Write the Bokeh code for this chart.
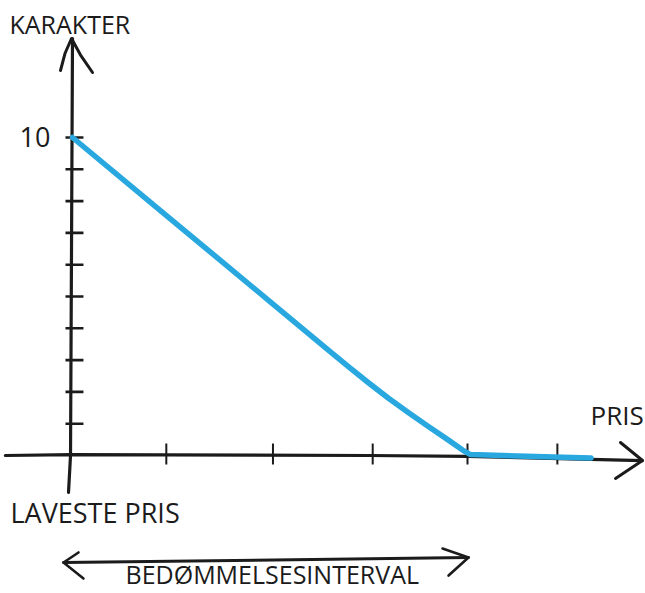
from bokeh.plotting import figure
from bokeh.models import Range1d, ColumnDataSource
from bokeh.core.properties import value
from bokeh.embed import file_html
from bokeh.resources import INLINE

# ---- data ----
PRICE = [0.0, 1.0, 2.0, 2.6, 2.8, 3.0, 3.2, 3.4, 3.6, 3.8, 3.95, 4.03, 5.25]
GRADE = [10.0, 7.42, 4.84, 3.29, 2.78, 2.28, 1.8, 1.35, 0.92, 0.5, 0.17, 0.03, -0.08]
X_TICKS = [0.95, 2.03, 3.04, 4.0, 4.91]
Y_TICKS = [1, 2, 3, 4, 5, 6, 7, 8, 9, 10]
Y_TICK_LABEL_VALUE = 10
Y_TICK_LABEL = "10"
Y_TITLE = "KARAKTER"
X_TITLE = "PRIS"
ORIGIN_LABEL = "LAVESTE PRIS"
INTERVAL_LABEL = "BEDØMMELSESINTERVAL"

W, H = 645, 593
FONT = value("Open Sans")
INK = "#1b1b1b"
BLUE = "#29a8e0"

p = figure(width=W, height=H, output_backend="svg", toolbar_location=None,
           x_range=Range1d(-0.7291, 5.8025), y_range=Range1d(-4.3396, 14.308),
           x_axis_type=None, y_axis_type=None, min_border=0)
p.outline_line_color = None
p.xgrid.visible = False
p.ygrid.visible = False
p.background_fill_color = "white"
p.border_fill_color = "white"

# axes (hand-drawn look)
p.line([-0.68, 0.0, 3.0, 4.0, 5.77], [0.0, 0.03, 0.0, -0.03, -0.16],
       line_color=INK, line_width=3.2, line_cap="round")
p.line([-0.0405, -0.02, 0.0], [-1.163, 0.0, 13.11],
       line_color=INK, line_width=3.2, line_cap="round")
# arrow heads
p.line([-0.1215, -0.075, -0.0101, 0.08, 0.2025], [12.107, 12.65, 13.113, 12.6, 12.044],
       line_color=INK, line_width=3, line_cap="round", line_join="round")
p.line([5.549, 5.772, 5.499], [0.409, -0.157, -0.723],
       line_color=INK, line_width=3, line_cap="round", line_join="round")

# ticks
p.segment(x0=[-0.071] * len(Y_TICKS), y0=Y_TICKS, x1=[0.111] * len(Y_TICKS), y1=Y_TICKS,
          line_color=INK, line_width=2.6)
p.segment(x0=X_TICKS, y0=[0.377] * len(X_TICKS), x1=X_TICKS, y1=[-0.283] * len(X_TICKS),
          line_color=INK, line_width=2)

# data line
src = ColumnDataSource(dict(x=PRICE, y=GRADE))
p.line("x", "y", source=src, line_color=BLUE, line_width=5.5,
       line_cap="round", line_join="round")

# double arrow (interval)
p.line([-0.091, 4.010], [-3.365, -3.208], line_color=INK, line_width=3, line_cap="round")
p.line([0.0608, -0.091, 0.111], [-3.05, -3.365, -3.868],
       line_color=INK, line_width=2.6, line_cap="round", line_join="round")
p.line([3.747, 4.010, 3.808], [-2.925, -3.208, -3.774],
       line_color=INK, line_width=2.6, line_cap="round", line_join="round")

# texts
p.text(x=[-0.638], y=[13.57], text=[Y_TITLE], text_font=FONT, text_font_size="25px",
       text_align="left", text_baseline="middle", text_color=INK)
p.text(x=[-0.2228], y=[Y_TICK_LABEL_VALUE + 0.03], text=[Y_TICK_LABEL], text_font=FONT,
       text_font_size="27px", text_align="right", text_baseline="middle", text_color=INK)
p.text(x=[5.2456], y=[1.289], text=[X_TITLE], text_font=FONT, text_font_size="26px",
       text_align="left", text_baseline="middle", text_color=INK)
p.text(x=[-0.628], y=[-1.808], text=[ORIGIN_LABEL], text_font=FONT, text_font_size="27px",
       text_align="left", text_baseline="middle", text_color=INK)
p.text(x=[0.5367], y=[-3.72], text=[INTERVAL_LABEL], text_font=FONT, text_font_size="25px",
       text_align="left", text_baseline="middle", text_color=INK)

open("out.html", "w").write(file_html(p, INLINE))
